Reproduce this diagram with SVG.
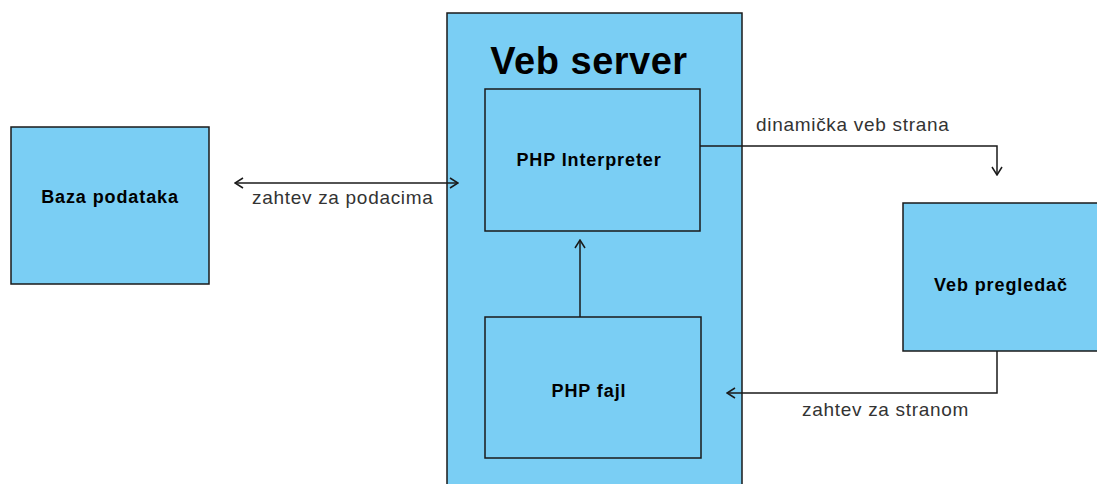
<svg xmlns="http://www.w3.org/2000/svg" width="1097" height="484" viewBox="0 0 1097 484">
<style>
.box{fill:#7acef4;stroke:#1a1a1a;stroke-width:1.5}
.title{font-family:"Liberation Sans",Arial,sans-serif;font-weight:bold;font-size:18px;letter-spacing:0.9px;fill:#000;text-anchor:middle}
.big{font-family:"Liberation Sans",Arial,sans-serif;font-weight:bold;font-size:38px;letter-spacing:0.5px;fill:#000;text-anchor:middle}
.lbl{font-family:"Liberation Sans",Arial,sans-serif;font-size:19px;letter-spacing:0.7px;fill:#333}
.con{fill:none;stroke:#1a1a1a;stroke-width:1.5}
</style>
<defs>
<marker id="arr" viewBox="0 0 12 12" refX="11" refY="6" markerWidth="12" markerHeight="12" markerUnits="userSpaceOnUse" orient="auto-start-reverse">
<path d="M3,1 L11,6 L3,11" fill="none" stroke="#1a1a1a" stroke-width="1.5"/>
</marker>
</defs>
<rect width="1097" height="484" fill="#fff"/>
<g id="baza">
<rect class="box" x="11" y="127" width="198" height="157"/>
<text class="title" x="110" y="203">Baza podataka</text>
</g>
<g id="vebserver">
<rect class="box" x="447" y="13" width="295" height="480"/>
<text class="big" x="589" y="74">Veb server</text>
</g>
<g id="interpreter">
<rect class="box" x="485" y="89" width="215" height="142"/>
<text class="title" x="589" y="166">PHP Interpreter</text>
</g>
<g id="fajl">
<rect class="box" x="485" y="317" width="216" height="141"/>
<text class="title" x="589" y="397">PHP fajl</text>
</g>
<g id="pregledac">
<rect class="box" x="903" y="203" width="200" height="148"/>
<text class="title" x="1001" y="291">Veb pregledač</text>
</g>
<g id="connectors">
<path class="con" d="M235,183 L458,183" marker-start="url(#arr)" marker-end="url(#arr)"/>
<text class="lbl" x="252" y="204">zahtev za podacima</text>
<path class="con" d="M700,146 L997,146 L997,175" marker-end="url(#arr)"/>
<text class="lbl" x="756" y="131">dinamička veb strana</text>
<path class="con" d="M580,317 L580,240" marker-end="url(#arr)"/>
<path class="con" d="M997,351 L997,393 L727,393" marker-end="url(#arr)"/>
<text class="lbl" x="802" y="416">zahtev za stranom</text>
</g>
</svg>
